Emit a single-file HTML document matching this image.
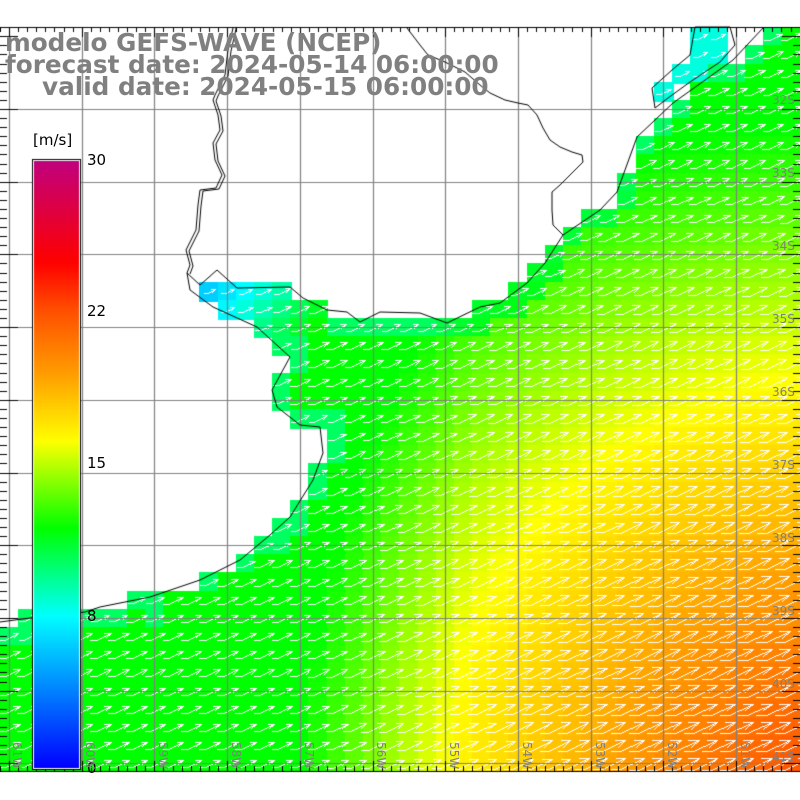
<!DOCTYPE html>
<html><head><meta charset="utf-8">
<style>
html,body{margin:0;padding:0;background:#fff;}
#wrap{position:relative;width:800px;height:800px;overflow:hidden;background:#fff;}
canvas{position:absolute;left:0;top:0;}
.t{position:absolute;font-family:"DejaVu Sans","Liberation Sans",sans-serif;font-weight:bold;color:#808080;font-size:24.7px;white-space:nowrap;line-height:22px;}
.cb{position:absolute;font-family:"DejaVu Sans","Liberation Sans",sans-serif;font-size:15px;color:#000;white-space:nowrap;}
.lat{position:absolute;font-family:"DejaVu Sans","Liberation Sans",sans-serif;font-size:12px;color:#808080;}
.lon{position:absolute;font-family:"DejaVu Sans","Liberation Sans",sans-serif;font-size:12px;color:#808080;transform:rotate(90deg);transform-origin:0 0;}
</style></head><body>
<div id="wrap">
<canvas id="c" width="800" height="800"></canvas>
<div class="t" style="left:5px;top:32px;">modelo GEFS-WAVE (NCEP)</div>
<div class="t" style="left:5px;top:54px;">forecast date: 2024-05-14 06:00:00</div>
<div class="t" style="left:42px;top:76px;">valid date: 2024-05-15 06:00:00</div>
<div class="cb" style="left:33px;top:131px;">[m/s]</div>
<div class="cb" style="left:87px;top:151px;">30</div>
<div class="cb" style="left:87px;top:302px;">22</div>
<div class="cb" style="left:87px;top:454px;">15</div>
<div class="cb" style="left:87px;top:607px;">8</div>
<div class="cb" style="left:87px;top:759px;">0</div>
<div class="lat" style="left:772px;top:93px;">32S</div>
<div class="lat" style="left:772px;top:166px;">33S</div>
<div class="lat" style="left:772px;top:239px;">34S</div>
<div class="lat" style="left:772px;top:312px;">35S</div>
<div class="lat" style="left:772px;top:385px;">36S</div>
<div class="lat" style="left:772px;top:458px;">37S</div>
<div class="lat" style="left:772px;top:531px;">38S</div>
<div class="lat" style="left:772px;top:604px;">39S</div>
<div class="lat" style="left:772px;top:677px;">40S</div>
<div class="lat" style="left:772px;top:750px;">41S</div>
<div class="lon" style="left:24px;top:742px;">61W</div>
<div class="lon" style="left:97px;top:742px;">60W</div>
<div class="lon" style="left:170px;top:742px;">59W</div>
<div class="lon" style="left:243px;top:742px;">58W</div>
<div class="lon" style="left:316px;top:742px;">57W</div>
<div class="lon" style="left:388px;top:742px;">56W</div>
<div class="lon" style="left:461px;top:742px;">55W</div>
<div class="lon" style="left:534px;top:742px;">54W</div>
<div class="lon" style="left:607px;top:742px;">53W</div>
<div class="lon" style="left:679px;top:742px;">52W</div>
<div class="lon" style="left:752px;top:742px;">51W</div>
</div>
<script>
var c=document.getElementById('c'),g=c.getContext('2d');
var TOP=27,BOT=771;
var coast=[[0,622],[30,618],[85,612],[100,607],[150,597],[200,580],[240,560],[270,535],[290,517],[313,480],[323,453],[320,427],[300,425],[277,407],[272,390],[290,357],[257,327],[213,307],[190,290],[187,273],[200,285],[217,270],[237,288],[290,287],[303,298],[327,310],[347,312],[360,322],[380,312],[420,313],[447,323],[480,307],[500,303],[527,283],[545,263],[563,235],[600,210],[617,192],[637,137],[655,120],[673,103],[733,60],[763,28]];
var lagoon=[[695,27],[730,27],[735,45],[720,62],[690,82],[668,98],[655,108],[652,88],[672,70],[690,55]];
function seaPath(){g.beginPath();g.moveTo(0,BOT);for(var i=0;i<coast.length;i++)g.lineTo(coast[i][0],coast[i][1]);g.lineTo(800,TOP);g.lineTo(800,BOT);g.closePath();}
function lagPath(){g.beginPath();g.moveTo(lagoon[0][0],lagoon[0][1]);for(var i=1;i<lagoon.length;i++)g.lineTo(lagoon[i][0],lagoon[i][1]);g.closePath();}
var stops=[[0,[0,0,255]],[4,[0,128,255]],[8,[0,255,255]],[10,[0,255,128]],[12,[0,255,0]],[14,[128,255,0]],[16,[255,255,0]],[19,[255,160,0]],[22,[255,80,0]],[24.6,[255,0,0]],[30,[192,0,128]]];
function col(s){if(s<=0)return 'rgb(0,0,255)';for(var i=1;i<stops.length;i++){if(s<=stops[i][0]){var a=stops[i-1],b=stops[i],t=(s-a[0])/(b[0]-a[0]);return 'rgb('+[0,1,2].map(function(k){return Math.round(a[1][k]+(b[1][k]-a[1][k])*t)}).join(',')+')';}}return 'rgb(192,0,128)';}
function speed(x,y){
 if(x<335&&y<330) return 5+(x-190)/25+(y-270)/30;
 var d=Math.hypot((x-850)*0.8,(y-820)*0.75);var s=23-0.021*d;
 if(x<470) s-=(470-x)*0.01;
 if(s<12) s=12;
 return s;
}
function nearCoast(x,y){var m=1e9;for(var i=0;i<coast.length;i++){var d=Math.hypot(coast[i][0]-x,coast[i][1]-y);if(d<m)m=d;}return m;}
var CS=72.7/4;
var cells=[];
for(var j=0;j<41;j++){for(var i=0;i<44;i++){
 var x0=i*CS,y0=TOP+0.7+j*CS;if(y0>=BOT)continue;
 var cx=x0+CS/2,cy=y0+CS/2;
 seaPath();var sea=g.isPointInPath(cx,cy);
 lagPath();var lag=g.isPointInPath(cx,cy);
 if(!sea&&!lag)continue;
 var s=speed(cx,cy);
 if(lag) s=8.5;
 else if(!(cx<335&&cy<330)){var nc=nearCoast(cx,cy);if(nc<22)s-=1.5;}
 g.fillStyle=col(s);
 g.fillRect(Math.floor(x0),Math.floor(y0),Math.ceil(CS)+1,Math.min(Math.ceil(CS)+1,BOT-Math.floor(y0)));
 cells.push([cx,cy,s]);
}}
function pl(x0,y0,x1,y1){x0=Math.round(x0);y0=Math.round(y0);x1=Math.round(x1);y1=Math.round(y1);
 var dx=Math.abs(x1-x0),dy=Math.abs(y1-y0),sx=x0<x1?1:-1,sy=y0<y1?1:-1,e=dx-dy;
 while(true){g.fillRect(x0,y0,1,1);if(x0==x1&&y0==y1)break;var e2=2*e;if(e2>-dy){e-=dy;x0+=sx;}if(e2<dx){e+=dx;y0+=sy;}}}
g.fillStyle='#fff';
cells.forEach(function(p){var cx=p[0],cy=p[1],L=Math.max(0.35,Math.min(1.15,p[2]/17));
 if(cy>BOT-6)return;
 var tx=cx+15*L,ty=cy-5*L;
 pl(cx-14*L,cy+5*L,cx-6*L,cy+5*L);
 pl(cx-6*L,cy+5*L,tx,ty);
 pl(tx,ty,tx-9*L,ty);
 pl(tx,ty,tx-7*L,ty+6*L);
});
g.strokeStyle='#808080';g.lineWidth=1.2;
for(var k=0;k<11;k++){var x=Math.round(9+k*72.7)+0.5;g.beginPath();g.moveTo(x,TOP);g.lineTo(x,BOT);g.stroke();}
for(var k=0;k<10;k++){var y=Math.round(109+k*72.7)+0.5;g.beginPath();g.moveTo(0,y);g.lineTo(800,y);g.stroke();}
g.strokeStyle='#000';g.lineWidth=1;
g.beginPath();g.moveTo(coast[0][0],coast[0][1]);for(var i=1;i<coast.length;i++)g.lineTo(coast[i][0],coast[i][1]);g.stroke();
lagPath();g.stroke();
var riv=[[233,28],[228,50],[225,75],[215,95],[213,100],[218,115],[220,130],[213,143],[215,160],[222,175],[216,188],[200,190],[198,205],[196,230],[186,250],[190,265],[187,273]];
g.beginPath();g.moveTo(riv[0][0],riv[0][1]);riv.forEach(function(p){g.lineTo(p[0],p[1]);});g.stroke();
g.beginPath();g.moveTo(riv[0][0]+3,riv[0][1]);riv.forEach(function(p){g.lineTo(p[0]+3,p[1]+1);});g.stroke();
var bor=[[407,28],[420,45],[428,55],[445,62],[465,72],[480,85],[490,93],[505,100],[518,103],[528,105],[537,115],[543,128],[550,140],[560,147],[572,152],[582,155],[583,162],[575,170],[560,185],[552,192],[552,210],[553,225],[563,235]];
g.beginPath();g.moveTo(bor[0][0],bor[0][1]);bor.forEach(function(p){g.lineTo(p[0],p[1]);});g.stroke();
g.beginPath();g.moveTo(0,TOP+0.5);g.lineTo(800,TOP+0.5);g.moveTo(0,BOT+0.5);g.lineTo(800,BOT+0.5);g.stroke();
for(var k=-1;k<90;k++){var x=Math.round(9+k*72.7/8)+0.5,maj=(k%8==0);
 g.beginPath();g.moveTo(x,TOP);g.lineTo(x,TOP+(maj?10:5));g.moveTo(x,BOT);g.lineTo(x,BOT-(maj?10:5));g.stroke();}
for(var k=-8;k<90;k++){var y=Math.round(109+k*72.7/8)+0.5,maj=(k%8==0);if(y<TOP||y>BOT)continue;
 g.beginPath();g.moveTo(0,y);g.lineTo(maj?18:7,y);g.moveTo(800,y);g.lineTo(maj?782:793,y);g.stroke();}
var gr=g.createLinearGradient(0,768,0,160);
var cbv=[[0,768],[8,616],[15,463],[22,311],[30,160]];
function vy(v){for(var i=1;i<cbv.length;i++)if(v<=cbv[i][0]){var a=cbv[i-1],b=cbv[i];return a[1]+(b[1]-a[1])*(v-a[0])/(b[0]-a[0]);}return 160;}
for(var v=0;v<=30;v+=0.5){gr.addColorStop((768-vy(v))/608,col(v));}
g.fillStyle='#000';g.fillRect(32,159,49,611);
g.fillStyle='#fff';g.fillRect(33,160,47,609);
g.fillStyle=gr;g.fillRect(34,161,45,607);
</script>
</body></html>
